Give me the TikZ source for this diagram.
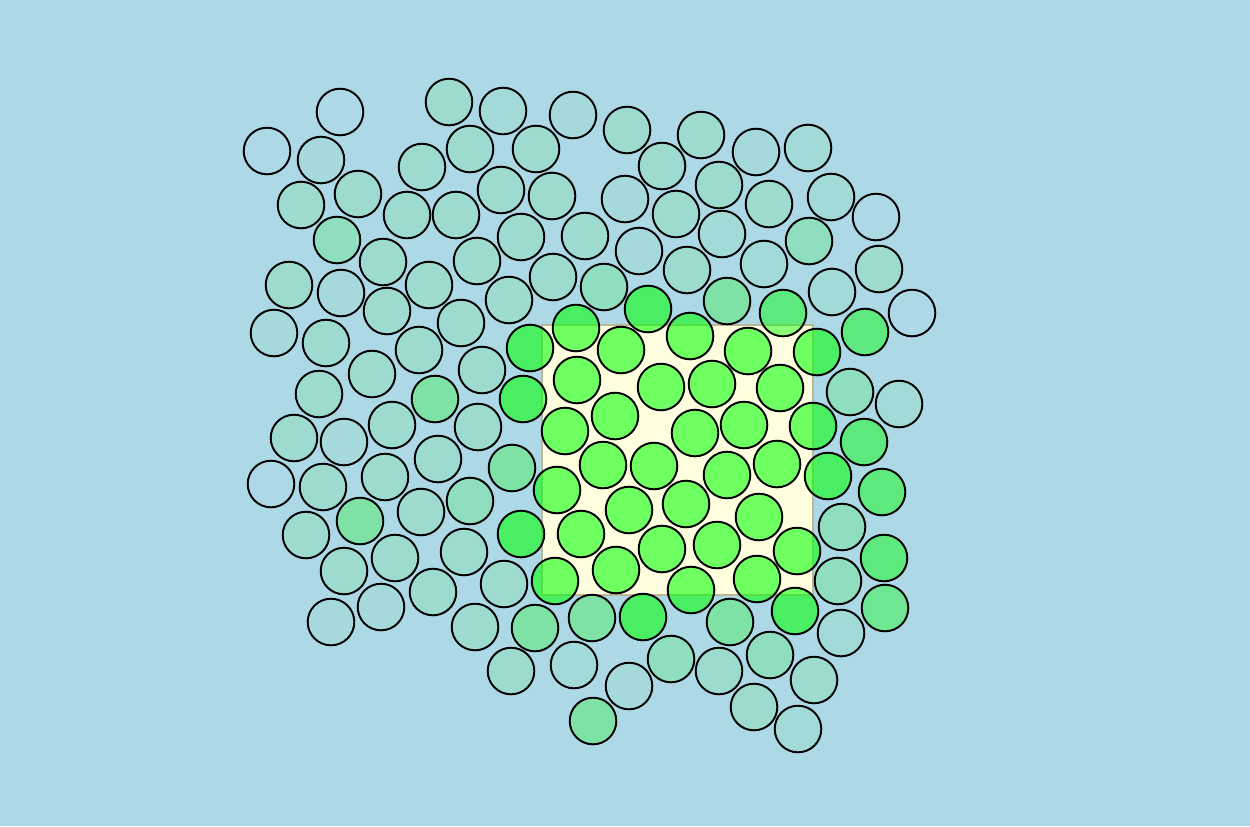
\documentclass[tikz,border=0pt]{standalone}
\usepackage{xcolor}
\usepackage{tikz}

\definecolor{skyback}{RGB}{173,216,230}
\definecolor{cellyellow}{RGB}{255,255,224}
\definecolor{cellrim}{RGB}{188,184,150}

\begin{document}
\begin{tikzpicture}[
  x=0.02cm, y=-0.02cm,
  disc/.style={draw=black, line width=1.1pt, fill=green},
  region/.style={draw=cellrim, line width=1.5pt, fill=cellyellow}
]
\fill[skyback] (0,0) rectangle (1250,826);
\useasboundingbox (0,0) rectangle (1250,826);

%% target square
\draw[region] (542,325) rectangle (813,595);

%% empty discs
\foreach \cx/\cy in {340/112, 267/151, 876/217, 912/313, 271/484}
  \draw[disc, fill opacity=0] (\cx,\cy) circle[radius=0.466cm];

%% barely tinted discs
\foreach \cx/\cy in {321/160, 573/115, 756/152, 344/442, 341/293, 331/622,
                     381/607, 274/333, 629/686, 625/199, 639/251}
  \draw[disc, fill opacity=0.04] (\cx,\cy) circle[radius=0.466cm];

%% light teal discs
\foreach \cx/\cy in {808/148, 503/111, 831/197, 722/234, 764/264, 832/292,
                     899/404, 841/633, 798/729, 574/665}
  \draw[disc, fill opacity=0.06] (\cx,\cy) circle[radius=0.466cm];

%% teal discs
\foreach \cx/\cy in {449/102, 627/130, 701/135, 422/167, 470/149, 536/149,
                     662/166, 719/185, 358/194, 301/205, 407/215, 456/215,
                     501/190, 552/196, 676/214, 769/204, 383/262, 477/261,
                     521/237, 585/236, 289/285, 429/285, 553/277, 687/270,
                     879/269, 387/311, 509/300, 326/343, 461/323, 419/350,
                     372/374, 482/370, 319/394, 392/425, 294/438, 478/427,
                     323/487, 385/477, 438/459, 421/512, 306/535, 464/552,
                     395/558, 344/571, 433/592, 504/584, 475/627, 511/671,
                     719/671, 814/680, 754/707}
  \draw[disc, fill opacity=0.09] (\cx,\cy) circle[radius=0.466cm];

%% greener teal discs
\foreach \cx/\cy in {337/240, 809/241, 604/287, 850/392, 842/527, 838/581,
                     770/655, 470/501, 671/659}
  \draw[disc, fill opacity=0.17] (\cx,\cy) circle[radius=0.466cm];

%% half green discs
\foreach \cx/\cy in {727/301, 435/399, 512/468, 360/521, 535/628, 730/622,
                     593/721, 592/618}
  \draw[disc, fill opacity=0.27] (\cx,\cy) circle[radius=0.466cm];

\foreach \cx/\cy in {885/608}
  \draw[disc, fill opacity=0.36] (\cx,\cy) circle[radius=0.466cm];

\foreach \cx/\cy in {783/313, 865/332, 864/442, 882/492, 884/558}
  \draw[disc, fill opacity=0.45] (\cx,\cy) circle[radius=0.466cm];

%% full green discs in and around the square
\foreach \cx/\cy in {648/309, 576/328, 530/348, 621/350, 690/336, 748/351,
                     817/352, 577/380, 661/387, 712/384, 780/388, 523/399,
                     565/431, 615/416, 695/433, 744/425, 813/426, 603/465,
                     654/466, 777/464, 727/475, 828/476, 557/490, 629/510,
                     686/504, 759/517, 521/534, 581/534, 662/549, 717/545,
                     797/551, 555/581, 616/570, 691/590, 757/579, 643/617,
                     795/611}
  \draw[disc, fill opacity=0.57] (\cx,\cy) circle[radius=0.466cm];
\end{tikzpicture}
\end{document}
